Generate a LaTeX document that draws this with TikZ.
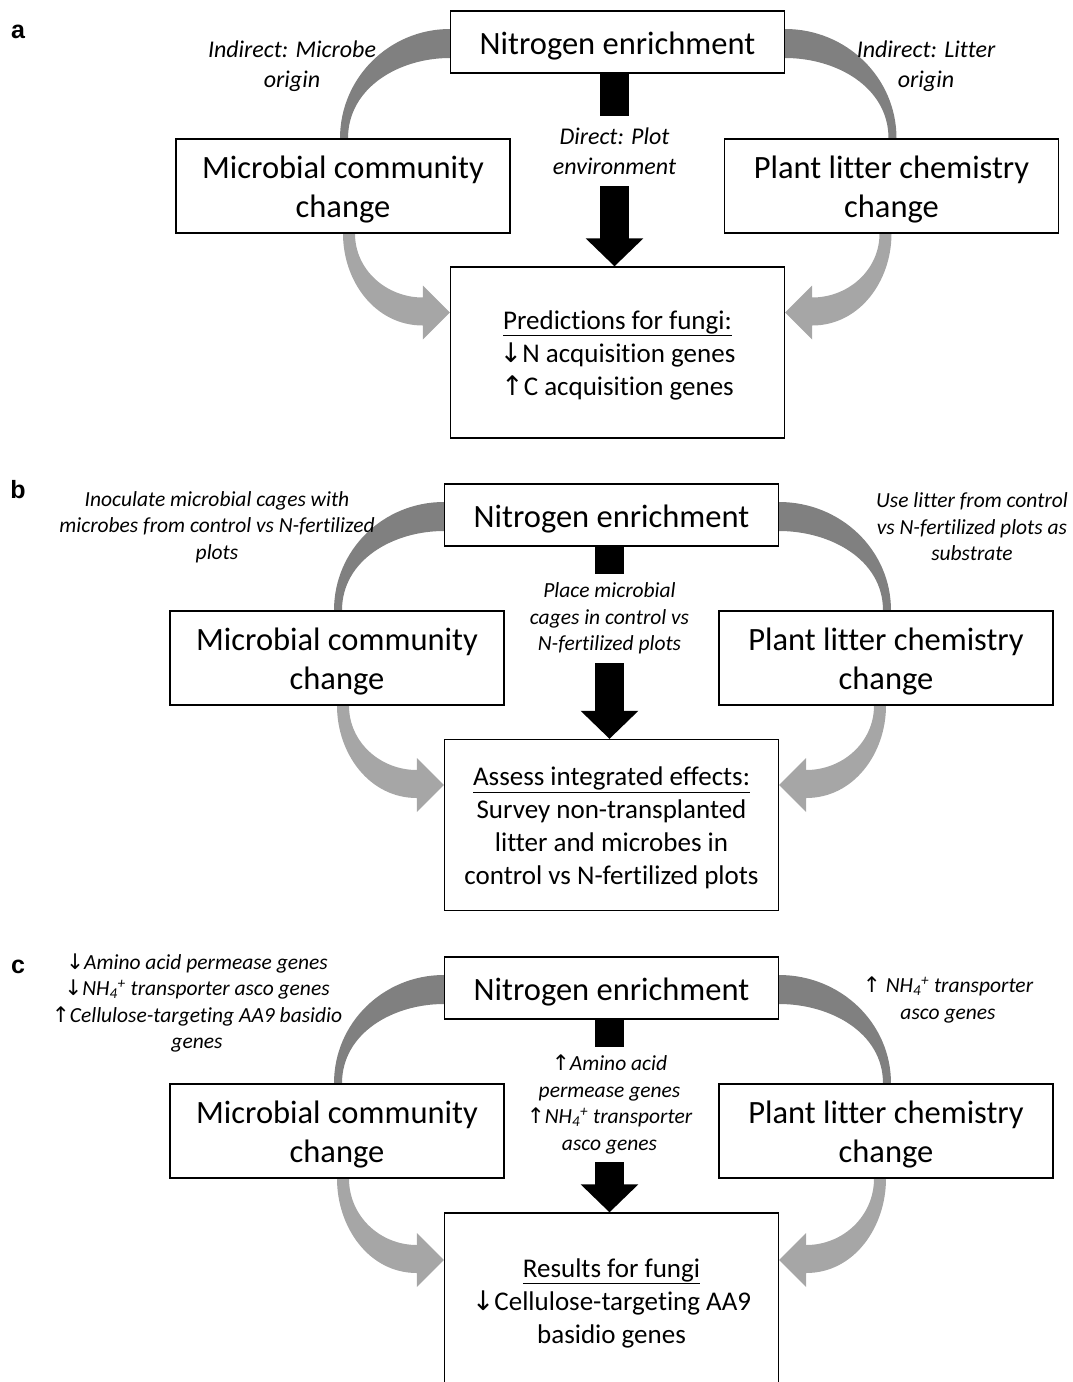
\documentclass[tikz,border=0pt]{standalone}
\usepackage{fontspec}
\setmainfont{Carlito}[Ligatures={NoCommon}]
\newfontfamily\arrfont{DejaVu Sans}
\newfontfamily\labfont{Liberation Sans}
\usetikzlibrary{arrows.meta,backgrounds}
\newcommand\uparr{{\arrfont\upshape ↑}}
\newcommand\dnarr{{\arrfont\upshape ↓}}
\newcommand\nhfour{NH\textsubscript{4}\textsuperscript{+}}
\newcommand\capstrut{\rule{0pt}{0.92em}}
\definecolor{bandtop}{RGB}{128,128,128}
\definecolor{bandlow}{RGB}{166,166,166}
\tikzset{
    plainbox/.style={draw, line width=1.3pt, fill=white, inner sep=0pt, align=center,
        minimum width=334pt},
    topbox/.style={plainbox, minimum height=62pt, font=\fontsize{32.5}{39}\selectfont},
    sidebox/.style={plainbox, minimum height=94pt, font=\fontsize{32.5}{39}\selectfont},
    fungibox/.style={plainbox, minimum height=171pt, font=\fontsize{27}{33}\selectfont},
    note/.style={align=center, inner sep=0pt, font=\itshape\fontsize{24}{30}\selectfont},
    smallnote/.style={note, font=\itshape\fontsize{21.5}{26.5}\selectfont},
    panellabel/.style={inner sep=0pt, font=\labfont\bfseries\fontsize{25}{30}\selectfont},
    blackstem/.style={draw=black, line width=29pt},
    blackhead/.style={-{Triangle[length=28pt 0 0, width=56pt 0 0]}}
}
\begin{document}
\begin{tikzpicture}[x=1pt, y=1pt]
    \useasboundingbox (0, 0) rectangle (1073, -1382);

    % panel a
    \node[panellabel] (labA) at (18, -32) {a};
    \node[topbox] (nitroA) at (617.5, -42) {\capstrut Nitrogen enrichment};
    \node[sidebox] (microA) at (343, -186) {\capstrut Microbial community\\change};
    \node[sidebox] (litterA) at (891.5, -186) {\capstrut Plant litter chemistry\\change};
    \node[fungibox] (fungiA) at (617.5, -352.5)
        {\capstrut\underline{Predictions for fungi:}\\\dnarr N acquisition genes\\\uparr C acquisition genes};
    \node[note] (microNoteA) at (292, -66) {Indirect: Microbe\\origin};
    \node[note] (litterNoteA) at (926, -66) {Indirect: Litter\\origin};
    \node[note, minimum height=70pt] (pathA) at (614.5, -151) {Direct: Plot\\environment};

    % panel b
    \node[panellabel] (labB) at (18, -490) {b};
    \node[topbox] (nitroB) at (611.5, -515) {\capstrut Nitrogen enrichment};
    \node[sidebox] (microB) at (337, -658) {\capstrut Microbial community\\change};
    \node[sidebox] (litterB) at (886, -658) {\capstrut Plant litter chemistry\\change};
    \node[fungibox] (fungiB) at (611.5, -825)
        {\capstrut\underline{Assess integrated effects:}\\Survey non-transplanted\\litter and microbes in\\control vs N-fertilized plots};
    \node[smallnote] (microNoteB) at (217, -527)
        {Inoculate microbial cages with\\microbes from control vs N-fertilized\\plots};
    \node[smallnote] (litterNoteB) at (972, -527)
        {Use litter from control\\vs N-fertilized plots as\\substrate};
    \node[smallnote, minimum height=89pt] (pathB) at (609.5, -618.5)
        {Place microbial\\cages in control vs\\N-fertilized plots};

    % panel c
    \node[panellabel] (labC) at (18, -967) {c};
    \node[topbox] (nitroC) at (611.5, -988) {\capstrut Nitrogen enrichment};
    \node[sidebox] (microC) at (337, -1131) {\capstrut Microbial community\\change};
    \node[sidebox] (litterC) at (886, -1131) {\capstrut Plant litter chemistry\\change};
    \node[fungibox, minimum height=174pt] (fungiC) at (611.5, -1300)
        {\capstrut\underline{Results for fungi}\\\dnarr Cellulose-targeting AA9\\basidio genes};
    \node[smallnote] (microNoteC) at (197, -1003)
        {\dnarr Amino acid permease genes\\\dnarr\nhfour{} transporter asco genes\\\uparr Cellulose-targeting AA9 basidio\\genes};
    \node[smallnote] (litterNoteC) at (948, -1000) {\uparr{} \nhfour{} transporter\\asco genes};
    \node[smallnote, minimum height=115pt] (pathC) at (609.5, -1104.5)
        {\uparr Amino acid\\permease genes\\\uparr\nhfour{} transporter\\asco genes};

    \begin{scope}[on background layer]
    \foreach \p in {A, B, C} {
        % direct path
        \draw[blackstem] (path\p.north |- nitro\p.south) -- (path\p.north);
        \draw[blackstem, blackhead] (path\p.south) -- (path\p.south |- fungi\p.north);
        % indirect paths, tapered bands
        \fill[bandtop] ([yshift=13pt]nitro\p.west) to[out=180, in=90] ([xshift=-3pt]micro\p.north)
            -- ([xshift=5pt]micro\p.north) to[out=90, in=180] ([yshift=-16pt]nitro\p.west) -- cycle;
        \fill[bandtop] ([yshift=13pt]nitro\p.east) to[out=0, in=90] ([xshift=5pt]litter\p.north)
            -- ([xshift=-3pt]litter\p.north) to[out=90, in=0] ([yshift=-16pt]nitro\p.east) -- cycle;
        \fill[bandlow] (micro\p.south) to[out=-90, in=180] ([xshift=-27pt, yshift=27pt]fungi\p.west)
            -- ([xshift=-27pt, yshift=13pt]fungi\p.west) -- ([yshift=40pt]fungi\p.west)
            -- ([xshift=-27pt, yshift=67pt]fungi\p.west) -- ([xshift=-27pt, yshift=55pt]fungi\p.west)
            to[out=180, in=-90] ([xshift=12pt]micro\p.south) -- cycle;
        \fill[bandlow] (litter\p.south) to[out=-90, in=0] ([xshift=27pt, yshift=27pt]fungi\p.east)
            -- ([xshift=27pt, yshift=13pt]fungi\p.east) -- ([yshift=40pt]fungi\p.east)
            -- ([xshift=27pt, yshift=67pt]fungi\p.east) -- ([xshift=27pt, yshift=55pt]fungi\p.east)
            to[out=0, in=-90] ([xshift=-12pt]litter\p.south) -- cycle;
    }
    \end{scope}
\end{tikzpicture}
\end{document}
